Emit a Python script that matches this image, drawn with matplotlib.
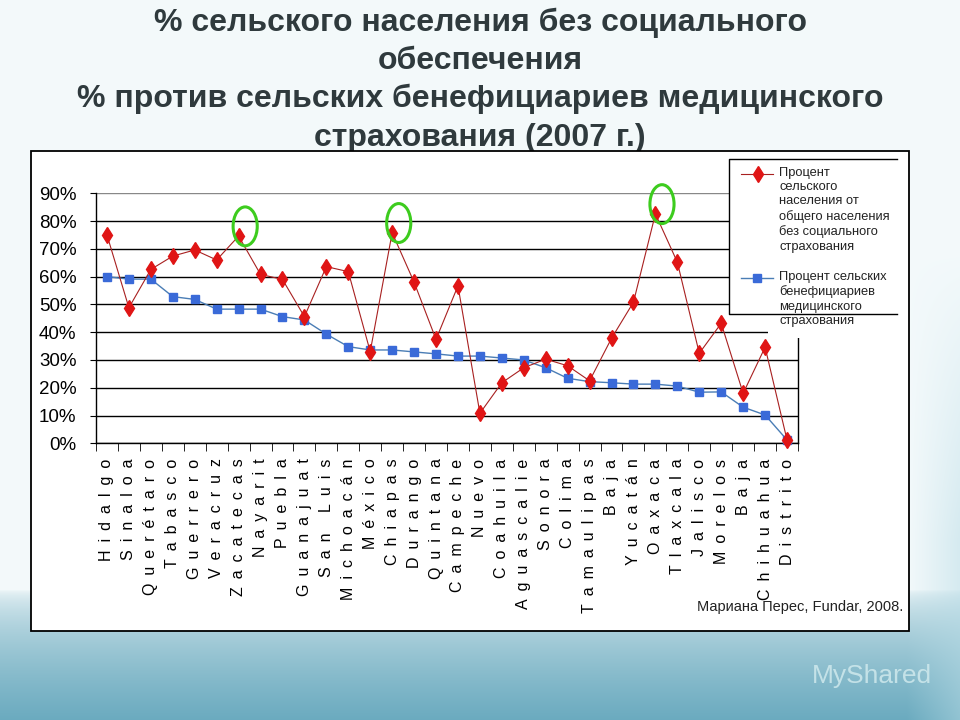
import numpy as np
import matplotlib
matplotlib.use('Agg')
import matplotlib.pyplot as plt
from matplotlib.patches import Rectangle, Ellipse
from matplotlib.lines import Line2D

plt.rcParams['font.family'] = ['Liberation Sans', 'DejaVu Sans']

states = ['Hidalgo', 'Sinaloa', 'Querétaro', 'Tabasco', 'Guerrero', 'Veracruz',
          'Zacatecas', 'Nayarit', 'Puebla', 'Guanajuat', 'San Luis', 'Michoacán',
          'México', 'Chiapas', 'Durango', 'Quintana', 'Campeche', 'Nuevo',
          'Coahuila', 'Aguascalie', 'Sonora', 'Colima', 'Tamaulipas', 'Baja',
          'Yucatán', 'Oaxaca', 'Tlaxcala', 'Jalisco', 'Morelos', 'Baja',
          'Chihuahua', 'Distrito']

# % сельского населения без социального страхования
no_insurance = [75.0, 48.8, 62.6, 67.4, 69.6, 66.0, 74.6, 60.8, 59.0, 45.6,
                63.6, 61.8, 33.0, 75.8, 58.0, 37.4, 56.7, 10.8, 21.8, 27.2,
                30.3, 27.9, 22.5, 37.8, 50.8, 82.6, 65.2, 32.4, 43.2, 18.0,
                34.6, 1.2]

# % сельских бенефициариев медицинского страхования
beneficiaries = [60.0, 59.1, 59.1, 52.8, 51.8, 48.3, 48.3, 48.3, 45.6, 44.4,
                 39.3, 34.8, 33.6, 33.6, 32.9, 32.2, 31.4, 31.4, 30.7, 30.0,
                 27.2, 23.4, 22.2, 21.8, 21.3, 21.3, 20.6, 18.4, 18.5, 13.0,
                 10.2, 1.2]

highlighted = [6, 13, 25]

title_lines = ['% сельского населения без социального',
               'обеспечения',
               '% против сельских бенефициариев медицинского',
               'страхования (2007 г.)']

legend_red = 'Процент\nсельского\nнаселения от\nобщего населения\nбез социального\nстрахования'
legend_blue = 'Процент сельских\nбенефициариев\nмедицинского\nстрахования'

W, H = 960, 720


def px(x, y):
    # пиксели картинки -> доли фигуры
    return x / W, 1 - y / H


fig = plt.figure(figsize=(9.6, 7.2), dpi=100)

# фон слайда
bg = fig.add_axes([0, 0, 1, 1], zorder=-10)
yy, xx = np.mgrid[0:1:720j, 0:1:960j]
top = np.array([0.955, 0.978, 0.984])
bottom = np.array([0.42, 0.67, 0.75])
k = np.clip((yy - 0.82) / 0.18, 0, 1) ** 0.55
img = top + (bottom - top) * k[..., None]
side = np.clip((xx - 0.945) / 0.055, 0, 1) * np.clip((yy - 0.35) / 0.4, 0, 1) * 0.5
img = img + (np.array([0.72, 0.86, 0.9]) - img) * side[..., None]
bg.imshow(img, aspect='auto', extent=[0, 1, 0, 1])
bg.axis('off')

# заголовок
for line, yc in zip(title_lines, [23, 61, 99, 138]):
    fig.text(0.5, 1 - yc / H, line, ha='center', va='center', fontsize=23,
             fontweight='bold', color='#2f3a3d', zorder=-5)

# белая рамка диаграммы
x0, y0 = px(31, 631)
x1, y1 = px(909, 151)
fig.patches.append(Rectangle((x0, y0), x1 - x0, y1 - y0, transform=fig.transFigure,
                             facecolor='white', edgecolor='black', lw=1.3, zorder=-1))

ax = fig.add_axes([96 / W, 1 - 443.3 / H, (798 - 96) / W, 250 / H])
ax.set_facecolor('none')
x = np.arange(len(states))
ax.plot(x, beneficiaries, color='#4a7db5', lw=1.0, marker='s', ms=6,
        mfc='#3a6ad8', mec='#3a6ad8', zorder=3, clip_on=False)
ax.plot(x, no_insurance, color='#a82020', lw=0.8, marker='d', ms=8,
        mfc='#e01515', mec='#e01515', zorder=4, clip_on=False)

for i in highlighted:
    ax.add_patch(Ellipse((i + 0.3, no_insurance[i] + 3.5), 1.1, 14,
                         fill=False, edgecolor='#3dcc1e', lw=2.2, zorder=5, clip_on=False))

ax.set_xlim(-0.5, len(states) - 0.5)
ax.set_ylim(0, 90)
ax.set_yticks(range(0, 100, 10))
ax.set_yticklabels(['%d%%' % v for v in range(0, 100, 10)], fontsize=13.5)
ax.tick_params(axis='y', length=4, pad=10, color='black')
ax.set_xticks(x)
ax.set_xticklabels(['\u2002'.join(s) for s in states], rotation=90, fontsize=11.5)
ax.tick_params(axis='x', which='major', length=0, pad=11)
ax.set_xticks(np.arange(-0.5, len(states), 1), minor=True)
ax.tick_params(axis='x', which='minor', length=6, color='black')
ax.grid(axis='y', color='black', lw=1.0)
ax.set_axisbelow(True)
ax.yaxis.get_gridlines()[-1].set_color('#888888')
ax.spines['top'].set_visible(False)
for s in ['left', 'right', 'bottom']:
    ax.spines[s].set_color('black')
    ax.spines[s].set_linewidth(1.0)

# легенда
lx0, ly0 = px(729, 314)
lx1, ly1 = px(897, 159)
fig.patches.append(Rectangle((lx0, ly0), lx1 - lx0, ly1 - ly0, transform=fig.transFigure,
                             facecolor='white', edgecolor='none', zorder=1))
ox0, oy0 = px(768, 338)
fig.patches.append(Rectangle((ox0, oy0), lx1 - ox0, ly0 - oy0, transform=fig.transFigure,
                             facecolor='white', edgecolor='none', zorder=1))
fig.lines.append(Line2D([lx1, lx0, lx0, lx1], [ly1, ly1, ly0, ly0],
                        transform=fig.transFigure, color='black', lw=1.0, zorder=2))
hx = [741 / W, 773 / W]
fig.lines.append(Line2D(hx, [1 - 174 / H] * 2, transform=fig.transFigure, color='#a82020',
                        lw=0.8, zorder=2))
fig.lines.append(Line2D([758 / W], [1 - 174 / H], transform=fig.transFigure, marker='d',
                        ms=8, mfc='#e01515', mec='#e01515', zorder=2))
fig.lines.append(Line2D(hx, [1 - 278 / H] * 2, transform=fig.transFigure, color='#4a7db5',
                        lw=1.0, zorder=2))
fig.lines.append(Line2D([757 / W], [1 - 278 / H], transform=fig.transFigure, marker='s',
                        ms=6, mfc='#3a6ad8', mec='#3a6ad8', zorder=2))
fig.text(779 / W, 1 - 167 / H, legend_red, ha='left', va='top', fontsize=9.3,
         linespacing=1.25, color='#222222', zorder=3)
fig.text(779 / W, 1 - 271 / H, legend_blue, ha='left', va='top', fontsize=9.3,
         linespacing=1.25, color='#222222', zorder=3)

fig.text(903 / W, 1 - 607 / H, 'Мариана Перес, Fundar, 2008.', ha='right', va='center',
         fontsize=10.5, color='#222222')

fig.text(812 / W, 1 - 676 / H, 'MyShared', ha='left', va='center', fontsize=19,
         color='#d4ecef', alpha=0.8)

fig.savefig('out.png', dpi=100)
